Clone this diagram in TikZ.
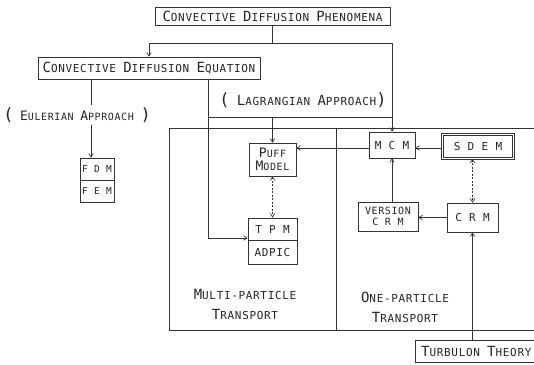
\documentclass[tikz,border=0pt]{standalone}
\usepackage{fontspec}
\setmainfont{DejaVu Sans Mono}[LetterSpace=6]
\usetikzlibrary{arrows.meta}
\newcommand\B[1]{{\fontsize{14}{14}\selectfont #1}}
\newcommand\Bs[1]{{\fontsize{13}{13}\selectfont #1}}
\newcommand\Pa[1]{{\fontsize{17}{17}\selectfont #1}}
\newcommand\basef{\fontsize{11}{13}\selectfont}
\tikzset{
 ln/.style={line width=0.7pt, draw=black!80},
 box/.style={ln, draw, inner sep=0pt, align=center, text=black!85, font=\basef},
 arr/.style={ln, -{Straight Barb[length=3.5pt,width=4.5pt]}},
 darr/.style={ln, dash pattern=on 2pt off 1.5pt, {Straight Barb[length=3.5pt,width=4.5pt]}-{Straight Barb[length=3.5pt,width=4.5pt]}},
 lbl/.style={align=center, inner sep=0pt, text=black!85, font=\basef},
}
\begin{document}
\begin{tikzpicture}[x=1pt,y=-1pt]
\clip (0,0) rectangle (534,364);
\fill[white] (0,0) rectangle (534,364);
% frame
\draw[ln, line width=0.9pt] (534,128) -- (169,128) -- (169,330) -- (534,330);
\draw[ln, line width=0.9pt] (336,128) -- (336,330);
% boxes
\node[box, minimum width=235pt, minimum height=18pt] (phen) at (272.5,16) {\B{C}ONVECTIVE \B{D}IFFUSION \B{P}HENOMENA};
\node[box, minimum width=222pt, minimum height=22pt] (eq) at (149,68) {\B{C}ONVECTIVE \B{D}IFFUSION \B{E}QUATION};
\node[box, minimum width=34pt, minimum height=22pt, font=\fontsize{9.5}{10}\selectfont] (fdm) at (97,169) {F D M};
\node[box, minimum width=34pt, minimum height=22pt, font=\fontsize{9.5}{10}\selectfont] (fem) at (97,191) {F E M};
\node[box, minimum width=47pt, minimum height=33pt, font=\fontsize{10}{11}\selectfont] (puff) at (272.5,159.5) {\Bs{P}UFF\\[2pt]\Bs{M}ODEL};
\node[box, minimum width=49pt, minimum height=22pt] (tpm) at (272.5,229) {T P M};
\node[box, minimum width=49pt, minimum height=24pt] (adpic) at (272.5,252) {ADPIC};
\node[box, minimum width=46pt, minimum height=26pt] (mcm) at (392,145) {M C M};
\node[box, minimum width=71pt, minimum height=24pt, double, double distance=1.8pt] (sdem) at (478,146.5) {S D E M};
\node[box, minimum width=51pt, minimum height=29pt] (crm) at (472.5,217.5) {C R M};
\node[box, minimum width=60pt, minimum height=29pt, font=\fontsize{10}{10.5}\selectfont] (ver) at (388,216.5) {VERSION\\C R M};
\node[box, minimum width=130pt, minimum height=22pt] (turb) at (480,351) {};
\node[lbl, anchor=west] (turbt) at (421,351) {\B{T}URBULON \B{T}HEORY};
% coordinates
\coordinate (xe) at (91,0);
\coordinate (xl) at (208,0);
\coordinate (xr) at (392,0);
\coordinate (jy) at (0,43);
\coordinate (ly) at (0,117);
\coordinate (ty) at (0,238);
\coordinate (my) at (0,148);
% connectors
\draw[ln] (phen.south) -- (phen.south |- jy);
\draw[ln] (eq.north |- jy) -- (xr |- jy);
\draw[arr] (eq.north |- jy) -- (eq.north);
\draw[arr] (xr |- jy) -- (mcm.north);
\draw[ln] (eq.south -| xl) -- (xl |- ly) -- (xr |- ly);
\draw[arr] (puff.north |- ly) -- (puff.north);
\draw[arr] (xl |- ly) -- (xl |- ty) -- (tpm.west |- ty);
\draw[arr] (eq.south -| xe) -- (fdm.north -| xe);
\draw[arr] (mcm.west |- my) -- (puff.east |- my);
\draw[arr] (sdem.west |- my) -- (mcm.east |- my);
\draw[arr] (ver.north -| mcm.south) -- (mcm.south);
\draw[arr] (crm.west) -- (ver.east |- crm.west);
\draw[darr] (sdem.south -| crm.north) -- (crm.north);
\draw[darr] (puff.south) -- (tpm.north);
\draw[arr] (turb.north -| crm.south) -- (crm.south);
% labels
\node[lbl, fill=white, inner xsep=1pt, inner ysep=2pt, font=\fontsize{10}{12}\selectfont] (euler) at (77,115) {\Pa{(} \Bs{E}ULERIAN \Bs{A}PPROACH \Pa{)}};
\node[lbl] (lagr) at (303,100) {\Pa{(} \B{L}AGRANGIAN \B{A}PPROACH\Pa{)}};
\node[lbl] (multi) at (245,304) {\B{M}ULTI-PARTICLE\\[7pt]\B{T}RANSPORT};
\node[lbl] (one) at (405,307) {\B{O}NE-PARTICLE\\[7pt]\B{T}RANSPORT};
\end{tikzpicture}
\end{document}
